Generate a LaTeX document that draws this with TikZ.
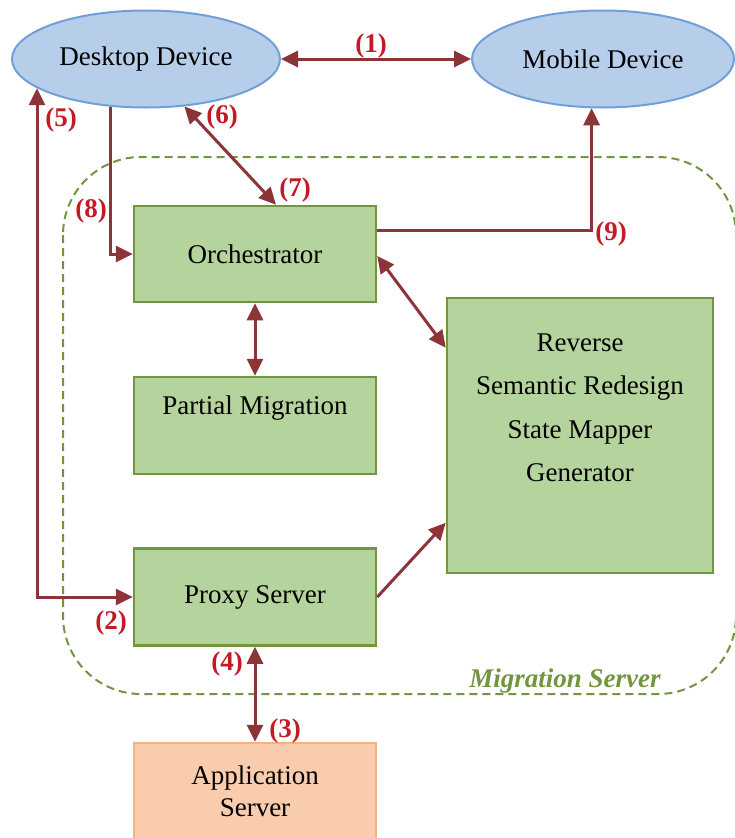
\documentclass[tikz,border=0pt]{standalone}
\usepackage{fontspec}
\setmainfont{Liberation Serif}
\usetikzlibrary{arrows.meta,shapes.geometric}
\definecolor{devfill}{RGB}{182,206,234}
\definecolor{devline}{RGB}{112,160,214}
\definecolor{modfill}{RGB}{181,211,156}
\definecolor{modline}{RGB}{113,150,63}
\definecolor{appfill}{RGB}{248,204,172}
\definecolor{appline}{RGB}{244,177,131}
\definecolor{flowc}{RGB}{140,52,56}
\definecolor{lblc}{RGB}{196,26,38}
\begin{document}
\begin{tikzpicture}[x=1pt,y=-1pt,
  txt/.style={font=\fontsize{27}{32}\selectfont},
  device/.style={ellipse, draw=devline, fill=devfill, line width=2pt,
    minimum width=268pt, minimum height=97pt, inner sep=0pt, txt},
  module/.style={rectangle, draw=modline, fill=modfill, line width=2.5pt,
    minimum width=242pt, minimum height=97pt, inner sep=0pt, txt},
  tipA/.tip={Triangle[length=17pt,width=16pt]},
  flow/.style={draw=flowc, line width=3pt, -tipA},
  bothway/.style={draw=flowc, line width=3pt, tipA-tipA},
  steplbl/.style={text=lblc, inner sep=0pt, font=\bfseries\fontsize{27}{32}\selectfont},
  groupbox/.style={draw=modline, line width=2pt, dash pattern=on 8pt off 5pt, rounded corners=78pt}
]
\useasboundingbox (0,0) rectangle (734,838);

% migration server boundary
\draw[groupbox] (63,157) rectangle (736,694);
\node[text=modline, inner sep=0pt, font=\bfseries\itshape\fontsize{27}{32}\selectfont] (msrv) at (565,681) {Migration Server};

% devices
\node[device] (desk) at (146,59) {Desktop Device};
\node[device, minimum width=262pt] (mob) at (603,59) {Mobile Device};

% server modules
\node[module, minimum height=96pt] (orch) at (255,254) {Orchestrator};
\node[module, minimum height=0pt, inner ysep=0pt, text height=37pt, text depth=60pt] (part) at (255,425.5) {Partial Migration};
\node[module, minimum width=266pt, minimum height=275pt] (rev) at (580,435.5) {};
\node[align=center, font=\fontsize{27}{43.5}\selectfont] (revtxt) at (580,408) {Reverse\\Semantic Redesign\\State Mapper\\Generator};
\node[module] (prox) at (255,597) {Proxy Server};
\node[module, draw=appline, fill=appfill, align=center] (app) at (255,791.5) {Application\\Server};

% connectors
\draw[bothway] (desk.east) -- (mob.west);
\draw[bothway] (prox.west) -| (desk.195);
\draw[flow] (desk.233.5) |- (orch.west);
\draw[bothway] (desk.309.7) -- ([xshift=21pt]orch.north);
\draw[flow] ([yshift=24pt]orch.east) -| (mob.257);
\draw[bothway] ([yshift=-2pt]orch.east) -- ([yshift=-51pt]rev.north west);
\draw[bothway] (orch.south) -- (part.north);
\draw[flow] (prox.east) -- ([yshift=-226pt]rev.north west);
\draw[bothway] (prox.south) -- (app.north);

% step numbers
\node[steplbl] (s1) at (371,46) {(1)};
\node[steplbl] (s2) at (111,623) {(2)};
\node[steplbl] (s3) at (285,731) {(3)};
\node[steplbl] (s4) at (227,664) {(4)};
\node[steplbl] (s5) at (61,120) {(5)};
\node[steplbl] (s6) at (222,117) {(6)};
\node[steplbl] (s7) at (295,190) {(7)};
\node[steplbl] (s8) at (91,211) {(8)};
\node[steplbl] (s9) at (611,234) {(9)};
\end{tikzpicture}
\end{document}
